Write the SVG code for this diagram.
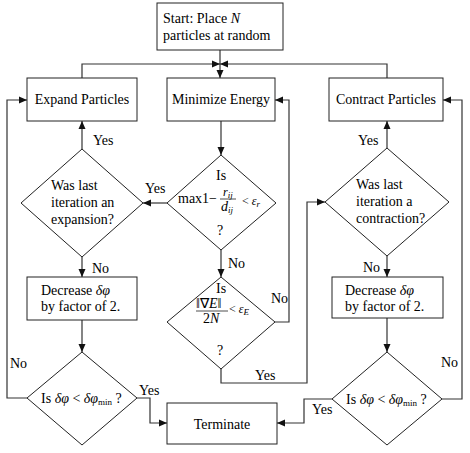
<svg xmlns="http://www.w3.org/2000/svg" xmlns:xlink="http://www.w3.org/1999/xlink" width="470" height="453" viewBox="0 0 470 453">
<defs>
<path id="ah" d="M-8,-3.5 L0,0 L-8,3.5 z" fill="#111"/>
</defs>
<rect width="470" height="453" fill="#fff"/>
<g id="connectors" fill="none" stroke="#333" stroke-width="1.2">
<path d="M220,50 V78"/>
<path d="M82,78 V64 H220"/>
<path d="M387,78 V64 H220"/>
<path d="M221,121 V155"/>
<path d="M167,203 H143"/>
<path d="M82,149 V121"/>
<path d="M387,148 V121"/>
<path d="M221,250 V277"/>
<path d="M275,322 H289 V100 H275"/>
<path d="M221,369 V383 H307 V202 H325"/>
<path d="M82,257 V277"/>
<path d="M82,320 V352"/>
<path d="M27,398 H7 V100 H27"/>
<path d="M137,398 H150 V423 H167"/>
<path d="M387,256 V277"/>
<path d="M387,318 V352"/>
<path d="M442,399 H462 V100 H443"/>
<path d="M332,399 H304 V423 H277"/>
<g stroke="none">
<use xlink:href="#ah" href="#ah" transform="translate(220,78) rotate(90)"/>
<use xlink:href="#ah" href="#ah" transform="translate(220,64)"/>
<use xlink:href="#ah" href="#ah" transform="translate(220,64) rotate(180)"/>
<use xlink:href="#ah" href="#ah" transform="translate(221,155) rotate(90)"/>
<use xlink:href="#ah" href="#ah" transform="translate(143,203) rotate(180)"/>
<use xlink:href="#ah" href="#ah" transform="translate(82,121) rotate(-90)"/>
<use xlink:href="#ah" href="#ah" transform="translate(387,121) rotate(-90)"/>
<use xlink:href="#ah" href="#ah" transform="translate(221,277) rotate(90)"/>
<use xlink:href="#ah" href="#ah" transform="translate(275,100) rotate(180)"/>
<use xlink:href="#ah" href="#ah" transform="translate(325,202)"/>
<use xlink:href="#ah" href="#ah" transform="translate(82,277) rotate(90)"/>
<use xlink:href="#ah" href="#ah" transform="translate(82,352) rotate(90)"/>
<use xlink:href="#ah" href="#ah" transform="translate(27,100)"/>
<use xlink:href="#ah" href="#ah" transform="translate(167,423)"/>
<use xlink:href="#ah" href="#ah" transform="translate(387,277) rotate(90)"/>
<use xlink:href="#ah" href="#ah" transform="translate(387,352) rotate(90)"/>
<use xlink:href="#ah" href="#ah" transform="translate(443,100) rotate(180)"/>
<use xlink:href="#ah" href="#ah" transform="translate(277,423) rotate(180)"/>
</g>
</g>
<g id="start">
<rect x="157" y="3" width="126" height="47" fill="#fff" stroke="#222"/>
<text font-family="Liberation Serif, Times New Roman, serif" font-size="14" x="163" y="23">Start: Place <tspan font-style="italic">N</tspan></text>
<text font-family="Liberation Serif, Times New Roman, serif" font-size="14" x="163" y="40">particles at random</text>
</g>
<g id="expand">
<rect x="27" y="78" width="110" height="43" fill="#fff" stroke="#222"/>
<text font-family="Liberation Serif, Times New Roman, serif" font-size="14" text-anchor="middle" x="82" y="104">Expand Particles</text>
</g>
<g id="minimize">
<rect x="167" y="78" width="108" height="43" fill="#fff" stroke="#222"/>
<text font-family="Liberation Serif, Times New Roman, serif" font-size="14" text-anchor="middle" x="221" y="104">Minimize Energy</text>
</g>
<g id="contract">
<rect x="329" y="78" width="114" height="43" fill="#fff" stroke="#222"/>
<text font-family="Liberation Serif, Times New Roman, serif" font-size="14" text-anchor="middle" x="386" y="104">Contract Particles</text>
</g>
<g id="q-expansion">
<path d="M82,149 L143,203 L82,257 L21,203 z" fill="#fff" stroke="#222"/>
<text font-family="Liberation Serif, Times New Roman, serif" font-size="14" x="51" y="190">Was last</text>
<text font-family="Liberation Serif, Times New Roman, serif" font-size="14" x="51" y="207">iteration an</text>
<text font-family="Liberation Serif, Times New Roman, serif" font-size="14" x="51" y="224">expansion?</text>
</g>
<g id="q-ratio">
<path d="M221,155 L276,203 L221,250 L167,203 z" fill="#fff" stroke="#222"/>
<text font-family="Liberation Serif, Times New Roman, serif" font-size="14" x="216" y="180">Is</text>
<text font-family="Liberation Serif, Times New Roman, serif" font-size="14" x="178" y="203">max</text>
<text font-family="Liberation Serif, Times New Roman, serif" font-size="14" x="202" y="203">1−</text>
<text font-family="Liberation Serif, Times New Roman, serif" font-size="12" font-style="italic" x="223" y="196">r<tspan font-size="9" dy="2">ij</tspan></text>
<line x1="220" y1="199" x2="236" y2="199" stroke="#222" stroke-width="0.8"/>
<text font-family="Liberation Serif, Times New Roman, serif" font-size="14" font-style="italic" x="221" y="211">d<tspan font-size="9" dy="2">ij</tspan></text>
<text font-family="Liberation Serif, Times New Roman, serif" font-size="12" x="242" y="205">&lt; <tspan font-style="italic">ε</tspan><tspan font-size="9" font-style="italic" dy="2">r</tspan></text>
<text font-family="Liberation Serif, Times New Roman, serif" font-size="14" x="217" y="235">?</text>
</g>
<g id="q-gradient">
<path d="M221,277 L275,322 L221,369 L167,322 z" fill="#fff" stroke="#222"/>
<text font-family="Liberation Serif, Times New Roman, serif" font-size="14" x="216" y="293">Is</text>
<text font-family="Liberation Serif, Times New Roman, serif" font-size="14" x="196" y="308">‖∇<tspan font-style="italic">E</tspan>‖</text>
<line x1="196" y1="311" x2="228" y2="311" stroke="#222" stroke-width="0.8"/>
<text font-family="Liberation Serif, Times New Roman, serif" font-size="14" x="203" y="323">2<tspan font-style="italic">N</tspan></text>
<text font-family="Liberation Serif, Times New Roman, serif" font-size="12" x="229" y="313">&lt; <tspan font-style="italic">ε</tspan><tspan font-size="9" font-style="italic" dy="2">E</tspan></text>
<text font-family="Liberation Serif, Times New Roman, serif" font-size="14" x="217" y="355">?</text>
</g>
<g id="q-contraction">
<path d="M387,148 L449,202 L387,256 L325,202 z" fill="#fff" stroke="#222"/>
<text font-family="Liberation Serif, Times New Roman, serif" font-size="14" x="356" y="189">Was last</text>
<text font-family="Liberation Serif, Times New Roman, serif" font-size="14" x="356" y="206">iteration a</text>
<text font-family="Liberation Serif, Times New Roman, serif" font-size="14" x="356" y="223">contraction?</text>
</g>
<g id="decrease-left">
<rect x="27" y="277" width="110" height="43" fill="#fff" stroke="#222"/>
<text font-family="Liberation Serif, Times New Roman, serif" font-size="14" x="41" y="295">Decrease <tspan font-style="italic">δφ</tspan></text>
<text font-family="Liberation Serif, Times New Roman, serif" font-size="14" x="41" y="311">by factor of 2.</text>
</g>
<g id="decrease-right">
<rect x="332" y="277" width="111" height="41" fill="#fff" stroke="#222"/>
<text font-family="Liberation Serif, Times New Roman, serif" font-size="14" x="345" y="295">Decrease <tspan font-style="italic">δφ</tspan></text>
<text font-family="Liberation Serif, Times New Roman, serif" font-size="14" x="345" y="311">by factor of 2.</text>
</g>
<g id="q-min-left">
<path d="M82,352 L137,398 L82,445 L27,398 z" fill="#fff" stroke="#222"/>
<text font-family="Liberation Serif, Times New Roman, serif" font-size="14" x="41" y="403">Is  <tspan font-style="italic">δφ</tspan> &lt; <tspan font-style="italic">δφ</tspan><tspan font-size="9" dy="2">min</tspan><tspan dy="-2"> ?</tspan></text>
</g>
<g id="q-min-right">
<path d="M387,352 L442,399 L387,445 L332,399 z" fill="#fff" stroke="#222"/>
<text font-family="Liberation Serif, Times New Roman, serif" font-size="14" x="346" y="404">Is  <tspan font-style="italic">δφ</tspan> &lt; <tspan font-style="italic">δφ</tspan><tspan font-size="9" dy="2">min</tspan><tspan dy="-2"> ?</tspan></text>
</g>
<g id="terminate">
<rect x="167" y="403" width="110" height="41" fill="#fff" stroke="#222"/>
<text font-family="Liberation Serif, Times New Roman, serif" font-size="14" text-anchor="middle" x="222" y="429">Terminate</text>
</g>
<g id="labels">
<text font-family="Liberation Serif, Times New Roman, serif" font-size="14" x="93" y="145">Yes</text>
<text font-family="Liberation Serif, Times New Roman, serif" font-size="14" x="358" y="145">Yes</text>
<text font-family="Liberation Serif, Times New Roman, serif" font-size="14" x="145" y="193">Yes</text>
<text font-family="Liberation Serif, Times New Roman, serif" font-size="14" x="228" y="268">No</text>
<text font-family="Liberation Serif, Times New Roman, serif" font-size="14" x="271" y="303">No</text>
<text font-family="Liberation Serif, Times New Roman, serif" font-size="14" x="255" y="380">Yes</text>
<text font-family="Liberation Serif, Times New Roman, serif" font-size="14" x="92" y="273">No</text>
<text font-family="Liberation Serif, Times New Roman, serif" font-size="14" x="363" y="272">No</text>
<text font-family="Liberation Serif, Times New Roman, serif" font-size="14" x="10" y="368">No</text>
<text font-family="Liberation Serif, Times New Roman, serif" font-size="14" x="441" y="367">No</text>
<text font-family="Liberation Serif, Times New Roman, serif" font-size="14" x="139" y="395">Yes</text>
<text font-family="Liberation Serif, Times New Roman, serif" font-size="14" x="312" y="414">Yes</text>
</g>
</svg>
